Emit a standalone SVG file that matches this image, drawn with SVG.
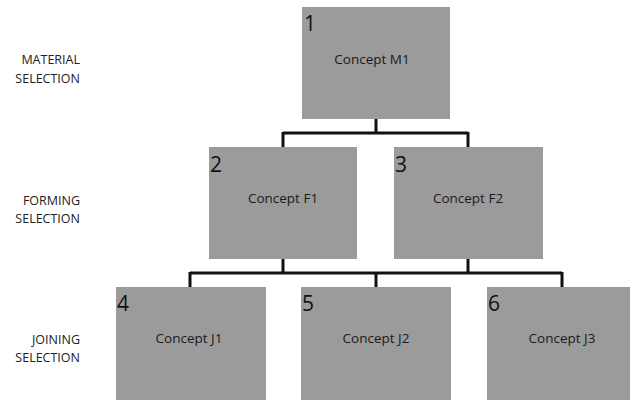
<svg xmlns="http://www.w3.org/2000/svg" width="632" height="401" viewBox="0 0 632 401">
<style>
.box{fill:#9b9b9b;}
.num{font-family:"Open Sans","Liberation Sans",Arial,sans-serif;font-size:21px;fill:#111;}
.lbl{font-family:"Open Sans","Liberation Sans",Arial,sans-serif;font-size:13.5px;fill:#1a1a1a;text-anchor:middle;}
.side{font-family:"Open Sans","Liberation Sans",Arial,sans-serif;font-size:12.5px;fill:#222;text-anchor:end;}
.conn{fill:none;stroke:#111;stroke-width:3;}
</style>
<rect width="632" height="401" fill="#fff"/>
<g id="side-labels">
<text class="side" x="80" y="64">MATERIAL</text>
<text class="side" x="80" y="83">SELECTION</text>
<text class="side" x="80" y="205">FORMING</text>
<text class="side" x="80" y="223">SELECTION</text>
<text class="side" x="80" y="344">JOINING</text>
<text class="side" x="80" y="362">SELECTION</text>
</g>
<g id="connectors">
<path class="conn" d="M376 119 V133 M283 133 H468 M283 132 V147 M468 132 V147"/>
<path class="conn" d="M283 259 V273 M468 259 V273 M190 273 H562 M190 272 V287 M376 272 V287 M562 272 V287"/>
</g>
<g id="node1">
<rect class="box" x="302" y="7" width="148" height="112"/>
<text class="num" x="304" y="31">1</text>
<text class="lbl" x="372" y="64">Concept M1</text>
</g>
<g id="node2">
<rect class="box" x="209" y="147" width="148" height="112"/>
<text class="num" x="210" y="172">2</text>
<text class="lbl" x="283" y="203">Concept F1</text>
</g>
<g id="node3">
<rect class="box" x="394" y="147" width="149" height="112"/>
<text class="num" x="395" y="172">3</text>
<text class="lbl" x="468" y="203">Concept F2</text>
</g>
<g id="node4">
<rect class="box" x="116" y="287" width="150" height="113"/>
<text class="num" x="117" y="311">4</text>
<text class="lbl" x="189" y="343">Concept J1</text>
</g>
<g id="node5">
<rect class="box" x="301" y="287" width="150" height="113"/>
<text class="num" x="302" y="311">5</text>
<text class="lbl" x="376" y="343">Concept J2</text>
</g>
<g id="node6">
<rect class="box" x="487" y="287" width="143" height="113"/>
<text class="num" x="488" y="311">6</text>
<text class="lbl" x="562" y="343">Concept J3</text>
</g>
</svg>
